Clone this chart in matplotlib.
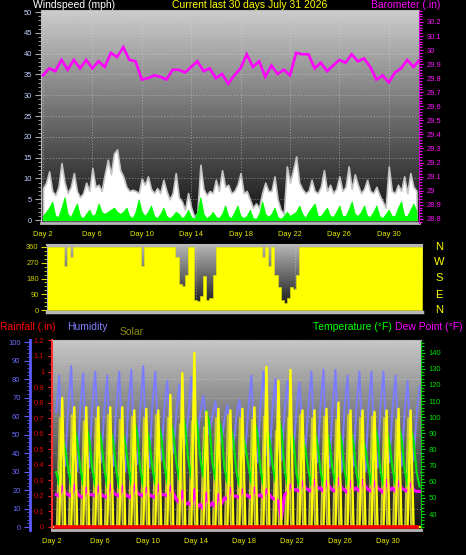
import numpy as np
import matplotlib
matplotlib.use('Agg')
import matplotlib.pyplot as plt
from matplotlib.ticker import MultipleLocator, FixedLocator, FuncFormatter

plt.rcParams['font.family'] = ['Liberation Sans', 'DejaVu Sans']

# ---------------- data ----------------
day_ticks = [2, 6, 10, 14, 18, 22, 26, 30]
day_labels = ['Day 2', 'Day 6', 'Day 10', 'Day 14', 'Day 18', 'Day 22', 'Day 26', 'Day 30']

# barometer (in), every half day from day 2.0
baro = [29.82, 29.87, 29.85, 29.93, 29.86, 29.93, 29.87, 29.93, 29.87, 29.92,
        29.88, 29.98, 29.95, 30.02, 29.93, 29.92, 29.79, 29.80, 29.82, 29.81,
        29.79, 29.86, 29.86, 29.84, 29.88, 29.92, 29.85, 29.87, 29.80, 29.83,
        29.76, 29.82, 29.87, 29.97, 29.88, 29.92, 29.81, 29.89, 29.83, 29.86,
        29.82, 29.98, 29.97, 29.97, 29.87, 29.91, 29.85, 29.89, 29.93, 29.91,
        29.97, 29.92, 29.94, 29.88, 29.79, 29.82, 29.77, 29.84, 29.87, 29.93,
        29.88, 29.93]

# wind speed (mph), every quarter day from day 2.0
wind_speed = [7.7, 9.0, 11.7, 7.0, 6.0, 8.0, 13.7, 9.0,
              6.5, 8.0, 11.3, 7.0, 5.5, 6.5, 9.0, 7.0,
              12.5, 8.0, 8.5, 7.0, 11.0, 14.5, 11.0, 16.0,
              17.0, 12.0, 10.5, 8.0, 7.0, 7.3, 7.0, 6.5,
              10.0, 8.5, 10.5, 7.5, 6.5, 7.7, 6.5, 9.7,
              7.0, 5.0, 6.5, 11.3, 5.5, 4.5, 2.5, 6.5,
              3.0, 0.8, 1.7, 13.3, 7.5, 6.0, 7.0, 6.5,
              9.7, 7.0, 12.0, 8.0, 8.5, 6.5, 7.0, 8.5,
              11.3, 6.5, 7.0, 5.0, 3.0, 4.0, 3.0, 6.5,
              9.0, 7.0, 7.0, 10.5, 5.0, 2.5, 1.5, 12.9,
              9.0, 12.0, 15.3, 9.0, 7.5, 6.5, 7.0, 9.7,
              7.0, 6.5, 8.0, 12.0, 7.0, 8.5, 6.5, 7.5,
              10.5, 7.0, 8.0, 12.9, 7.5, 11.0, 8.5, 6.5,
              7.5, 9.7, 7.0, 6.5, 8.0, 6.0, 4.5, 3.0,
              12.9, 7.0, 6.5, 8.5, 7.0, 10.5, 6.5, 11.3,
              8.0, 7.0]

# average wind (mph), every quarter day from day 2.0
wind_avg = [1.0, 2.0, 3.0, 4.5, 1.0, 0.8, 3.0, 5.5,
            1.5, 0.7, 2.5, 4.0, 1.0, 0.5, 1.5, 2.5,
            1.0, 1.5, 4.0, 2.0, 1.5, 2.0, 2.5, 3.0,
            2.0, 1.5, 2.0, 3.0, 1.0, 0.5, 2.0, 5.0,
            2.0, 1.0, 2.0, 3.5, 1.0, 0.5, 1.5, 3.0,
            1.0, 0.5, 1.0, 2.0, 1.5, 0.5, 1.0, 2.5,
            0.8, 0.3, 2.0, 5.5, 1.5, 0.5, 1.0, 2.0,
            0.8, 0.5, 1.5, 3.5, 1.0, 0.5, 2.0, 3.5,
            1.0, 0.5, 1.0, 2.5, 0.5, 0.3, 1.5, 4.5,
            1.5, 0.8, 1.5, 3.0, 0.8, 0.3, 1.0, 2.0,
            1.0, 1.5, 2.0, 3.5, 1.5, 0.5, 2.0, 3.0,
            4.0, 1.0, 1.0, 2.0, 3.0, 1.0, 0.8, 2.0,
            3.5, 1.0, 1.0, 2.5, 4.5, 1.5, 1.0, 2.0,
            3.5, 1.0, 0.8, 2.0, 3.5, 1.0, 0.5, 1.5,
            2.5, 1.0, 1.0, 3.0, 4.5, 1.0, 1.0, 2.5,
            4.0, 2.0]

# wind direction envelope (deg), every quarter day from day 2.0
wind_dir = [360, 360, 360, 360, 360, 360, 250, 360,
            300, 360, 360, 360, 360, 360, 360, 360,
            360, 360, 360, 360, 360, 360, 360, 360,
            360, 360, 360, 360, 360, 360, 360, 250,
            360, 360, 360, 360, 360, 360, 360, 360,
            360, 360, 300, 150, 140, 200, 360, 360,
            60, 50, 80, 195, 60, 70, 200, 360,
            360, 360, 360, 360, 360, 360, 360, 360,
            360, 360, 360, 360, 360, 360, 300, 360,
            250, 360, 200, 130, 60, 40, 70, 130,
            120, 200, 360, 360, 360, 360, 360, 360,
            360, 360, 360, 360, 360, 360, 360, 360,
            360, 360, 360, 360, 360, 360, 360, 360,
            360, 360, 360, 360, 360, 360, 360, 360,
            360, 360, 360, 360, 360, 360, 360, 360,
            360, 360]

# humidity (%), every quarter day from day 2.35
humidity = [62, 82, 42, 33, 65, 87, 40, 30, 64, 83, 41, 32, 66, 84, 44, 35,
            63, 82, 42, 33, 65, 84, 40, 30, 66, 85, 43, 34, 64, 87, 41, 32,
            66, 84, 45, 36, 64, 79, 50, 40, 62, 77, 54, 45, 60, 81, 57, 48,
            62, 71, 58, 50, 60, 68, 54, 45, 58, 66, 51, 42, 60, 69, 49, 40,
            64, 82, 44, 35, 66, 84, 42, 33, 64, 80, 45, 36, 62, 79, 50, 40,
            63, 78, 52, 42, 65, 84, 44, 35, 66, 85, 41, 32, 64, 85, 40, 30,
            64, 82, 42, 33, 66, 84, 40, 30, 65, 84, 41, 32, 66, 84, 44, 35,
            64, 82, 42, 33, 62, 79, 45, 36, 60, 76]

# temperature (F), every quarter day from day 2.35
temperature = [66, 58, 88, 80, 68, 57, 94, 86, 69, 58, 95, 87, 68, 57, 94, 86,
               68, 57, 93, 85, 67, 56, 92, 84, 70, 58, 98, 90, 68, 57, 94, 86,
               69, 58, 96, 88, 70, 59, 98, 90, 72, 61, 102, 94, 73, 62, 103, 95,
               74, 63, 104, 96, 72, 61, 100, 92, 69, 59, 94, 86, 66, 57, 90, 82,
               70, 59, 98, 90, 68, 58, 95, 87, 71, 60, 100, 92, 68, 58, 94, 86,
               65, 56, 88, 80, 67, 57, 92, 84, 67, 57, 92, 84, 68, 58, 93, 85,
               67, 57, 92, 84, 65, 56, 88, 80, 68, 58, 95, 87, 67, 57, 92, 84,
               68, 58, 95, 87, 68, 57, 94, 86, 66, 57]

# dew point (F), every quarter day from day 2.35
dew_point = [52, 51, 57, 53, 52, 51, 58, 53, 51, 50, 56, 52, 52, 51, 57, 52,
             51, 50, 58, 53, 52, 51, 57, 52, 51, 50, 58, 53, 52, 51, 56, 52,
             51, 50, 58, 52, 52, 51, 57, 53, 49, 47, 54, 46, 47, 45, 55, 44,
             46, 43, 53, 45, 47, 44, 52, 46, 50, 49, 56, 51, 51, 50, 55, 52,
             51, 50, 56, 51, 52, 50, 55, 52, 50, 49, 48, 37, 52, 53, 58, 55,
             55, 54, 60, 56, 55, 54, 61, 56, 56, 54, 60, 57, 55, 54, 62, 56,
             55, 53, 60, 55, 56, 54, 61, 57, 55, 54, 60, 56, 55, 53, 61, 55,
             56, 54, 60, 56, 55, 54, 59, 55, 54, 54]

# solar (plotted on rainfall scale), every quarter day from day 2.35
solar = [0, 0, 0.83, 0, 0, 0, 0.77, 0, 0, 0, 0.77, 0, 0, 0, 0.77, 0,
         0, 0, 0.77, 0, 0, 0, 0.77, 0, 0, 0, 0.75, 0, 0, 0, 0.76, 0,
         0, 0, 0.75, 0, 0, 0, 0.85, 0, 0, 0, 0.99, 0, 0, 0, 1.12, 0,
         0, 0, 0.74, 0, 0, 0, 0.76, 0, 0, 0, 0.75, 0, 0, 0, 0.76, 0,
         0, 0, 0.77, 0, 0, 0, 1.03, 0, 0, 0, 0.94, 0, 0, 0, 1.01, 0,
         0, 0, 0.75, 0, 0, 0, 0.75, 0, 0, 0, 0.76, 0, 0, 0, 0.80, 0,
         0, 0, 0.75, 0, 0, 0, 0.75, 0, 0, 0, 0.74, 0, 0, 0, 0.75, 0,
         0, 0, 0.76, 0, 0, 0, 0.75, 0, 0, 0]

# second solar trace (olive), every quarter day from day 2.15
solar2 = [0, 0, 0.70, 0, 0, 0, 0.72, 0, 0, 0, 0.68, 0, 0, 0, 0.70, 0,
          0, 0, 0.72, 0, 0, 0, 0.69, 0, 0, 0, 0.71, 0, 0, 0, 0.70, 0,
          0, 0, 0.72, 0, 0, 0, 0.70, 0, 0, 0, 0.66, 0, 0, 0, 0.68, 0,
          0, 0, 0.64, 0, 0, 0, 0.70, 0, 0, 0, 0.72, 0, 0, 0, 0.70, 0,
          0, 0, 0.69, 0, 0, 0, 0.71, 0, 0, 0, 0.62, 0, 0, 0, 0.70, 0,
          0, 0, 0.72, 0, 0, 0, 0.70, 0, 0, 0, 0.71, 0, 0, 0, 0.69, 0,
          0, 0, 0.72, 0, 0, 0, 0.70, 0, 0, 0, 0.71, 0, 0, 0, 0.70, 0,
          0, 0, 0.69, 0, 0, 0, 0.70, 0, 0, 0]

# rainfall (in), daily from day 2.35
rainfall = [0.0, 0.0, 0.0, 0.0, 0.0, 0.0, 0.0, 0.0, 0.0, 0.0, 0.0,
            0.0, 0.0, 0.0, 0.0, 0.0, 0.0, 0.0, 0.0, 0.0, 0.0, 0.0,
            0.0, 0.0, 0.0, 0.0, 0.0, 0.0, 0.0, 0.0, 0.0]

# ---------------- figure ----------------
W, H = 466, 555
fig = plt.figure(figsize=(W / 100, H / 100), dpi=100, facecolor='black')


def rect(l, t, r, b):
    return [l / W, 1 - b / H, (r - l) / W, (b - t) / H]


def px(x, y):
    return x / W, 1 - y / H


def gradient_bg(r, top, bottom):
    bg = fig.add_axes(r, zorder=0)
    bg.imshow(np.linspace(top, bottom, 256).reshape(-1, 1), aspect='auto',
              cmap='gray', vmin=0, vmax=1, extent=[0, 1, 0, 1], origin='upper')
    bg.set_axis_off()


TICK_FS = 5.4
DAY_COLOR = '#e6e600'
GRID_KW = dict(color='#d8d8d8', linestyle=(0, (1, 2)), linewidth=0.7, alpha=0.55)

# ---------- panel 1 : wind + barometer ----------
r1 = rect(41, 10, 419, 223)
gradient_bg(r1, 0.80, 0.06)
ax1 = fig.add_axes(r1, zorder=1)
ax1.set_facecolor('none')
ax1.set_xlim(1.84, 32.45)
ax1.set_ylim(-0.7, 50.5)
tw = 2.0 + 0.25 * np.arange(len(wind_speed))
ax1.fill_between(tw, 0, wind_speed, facecolor='white', edgecolor='#c4c4c4',
                 linewidth=1.2, zorder=2)
ax1.fill_between(tw, 0, wind_avg, facecolor='#00ff00', edgecolor='#00ff00',
                 linewidth=0.6, zorder=3)
ax1.set_axisbelow(True)
ax1.yaxis.set_major_locator(MultipleLocator(5))
ax1.yaxis.set_minor_locator(MultipleLocator(1))
ax1.set_xticks(day_ticks)
ax1.set_xticklabels(day_labels)
ax1.grid(True, which='major', **GRID_KW)
ax1.tick_params(axis='y', which='major', length=4, width=0.8, color='#a8a8a8',
                labelcolor='#c4d4ff', labelsize=TICK_FS, pad=2.5)
ax1.tick_params(axis='y', which='minor', length=2.5, width=0.6, color='#a8a8a8')
ax1.tick_params(axis='x', length=0, pad=5.5, labelsize=TICK_FS, labelcolor=DAY_COLOR)
for s in ['top', 'bottom', 'left']:
    ax1.spines[s].set_color('#b8b8b8')
ax1.spines['bottom'].set_linewidth(2)
ax1.spines['right'].set_visible(False)

ax1b = ax1.twinx()
ax1b.set_ylim(28.77, 30.285)
tb = 2.0 + 0.5 * np.arange(len(baro))
ax1b.plot(tb, baro, color='#ff00ff', linewidth=1.9, solid_joinstyle='miter')
ax1b.yaxis.set_major_locator(FixedLocator(np.round(np.arange(28.8, 30.25, 0.1), 1)))
ax1b.yaxis.set_major_formatter(FuncFormatter(lambda v, p: '%g' % round(v, 1)))
ax1b.yaxis.set_minor_locator(MultipleLocator(0.02))
ax1b.tick_params(axis='y', which='major', length=3, width=0.8, color='#ff00ff',
                 labelcolor='#ff10ff', labelsize=TICK_FS, pad=2.5)
ax1b.tick_params(axis='y', which='minor', length=2, width=0.8, color='#ff00ff')
ax1b.spines['right'].set_color('#c000c0')
ax1b.spines['right'].set_linestyle((0, (1, 1)))
for s in ['top', 'bottom', 'left']:
    ax1b.spines[s].set_visible(False)

# ---------- panel 2 : wind direction ----------
r2 = rect(47, 245, 422, 312)
gradient_bg(r2, 0.72, 0.04)
ax2 = fig.add_axes(r2, zorder=1)
ax2.set_facecolor('none')
ax2.set_xlim(2.0, 32.29)
ax2.set_ylim(-11.4, 371.4)
td = 2.0 + 0.25 * np.arange(len(wind_dir))
ax2.fill_between(td, 0, wind_dir, step='mid', facecolor='#ffff00',
                 edgecolor='#e8e800', linewidth=0.4, zorder=2)
ax2.set_yticks([0, 90, 180, 270, 360])
ax2.yaxis.set_minor_locator(MultipleLocator(22.5))
ax2.set_xticks(day_ticks)
ax2.set_xticklabels([])
ax2.set_axisbelow(True)
ax2.grid(True, which='major', axis='x', **GRID_KW)
ax2.tick_params(axis='x', length=0)
ax2.tick_params(axis='y', which='major', length=4, width=0.8, color='#d8d800',
                labelcolor='#d0d000', labelsize=TICK_FS, pad=2)
ax2.tick_params(axis='y', which='minor', length=2, width=0.6, color='#d8d800')
for s in ['top', 'bottom', 'left', 'right']:
    ax2.spines[s].set_color('#b8b8b8')
ax2.spines['bottom'].set_linewidth(2.5)
ax2.spines['top'].set_linewidth(1.5)
ax2.spines['right'].set_visible(False)

for lab, yy in zip(['N', 'W', 'S', 'E', 'N'], [247, 262, 278, 295, 310]):
    fig.text(*px(439, yy), lab, color='#ffff00', fontsize=8, ha='center', va='center')

# ---------- panel 3 : rain / humidity / solar / temperature ----------
r3 = rect(52, 340, 421, 530)
gradient_bg(r3, 0.78, 0.05)
ax3 = fig.add_axes(r3)
ax3.set_facecolor('none')
ax3.set_xlim(2.35, 32.72)
RAIN_LIM = (-0.0193, 1.2026)
ax3.set_ylim(*RAIN_LIM)

axh = ax3.twinx()
axs2 = ax3.twinx()
axt = ax3.twinx()
axh.set_zorder(2)
axs2.set_zorder(2.5)
axt.set_zorder(3)
ax3.set_zorder(4)

# humidity axis on the far left
axh.set_ylim(-1.62, 101.1)
axh.yaxis.set_ticks_position('left')
axh.yaxis.set_label_position('left')
axh.spines['left'].set_visible(True)
axh.spines['left'].set_position(('axes', -22.5 / 369))
axh.spines['left'].set_color('#5a5aff')
axh.spines['left'].set_linewidth(2)
for s in ['right', 'top', 'bottom']:
    axh.spines[s].set_visible(False)
axh.yaxis.set_major_locator(MultipleLocator(10))
axh.yaxis.set_minor_locator(MultipleLocator(2))
axh.tick_params(axis='y', which='major', length=4, width=0.8, color='#6060ff',
                labelcolor='#6c6cff', labelsize=TICK_FS, pad=2.5)
axh.tick_params(axis='y', which='minor', length=2.5, width=0.6, color='#6060ff')
axh.set_axisbelow(True)
axh.grid(True, which='major', axis='both', **GRID_KW)

th = 2.35 + 0.25 * np.arange(len(humidity))
axh.plot(th, humidity, color='#7c7cff', linewidth=1.4)

# olive solar trace (same scale as rainfall), below temperature lines
axs2.set_ylim(*RAIN_LIM)
axs2.set_axis_off()
ts2 = 2.15 + 0.25 * np.arange(len(solar2))
axs2.plot(ts2, solar2, color='#c8c440', linewidth=1.5)

# temperature / dew point axis on the right
axt.set_ylim(30.08, 147.9)
tt = 2.35 + 0.25 * np.arange(len(temperature))
axt.plot(tt, temperature, color='#00e800', linewidth=1.5)
tdp = 2.35 + 0.25 * np.arange(len(dew_point))
axt.plot(tdp, dew_point, color='#ff00ff', linewidth=2.2)
axt.yaxis.set_major_locator(FixedLocator(np.arange(40, 141, 10)))
axt.yaxis.set_minor_locator(MultipleLocator(2))
axt.tick_params(axis='y', which='major', length=3, width=0.8, color='#00d000',
                labelcolor='#00e000', labelsize=TICK_FS, pad=2.5)
axt.tick_params(axis='y', which='minor', length=2, width=0.8, color='#00d000')
axt.spines['right'].set_color('#00c000')
axt.spines['right'].set_linestyle((0, (1, 1)))
for s in ['left', 'top', 'bottom']:
    axt.spines[s].set_visible(False)

# bright solar and rainfall on the rainfall scale
ts = 2.35 + 0.25 * np.arange(len(solar))
ax3.plot(ts, solar, color='#ffff00', linewidth=1.7)
tr = 2.35 + 1.0 * np.arange(len(rainfall))
ax3.plot(tr, rainfall, color='#ff0000', linewidth=2.6)

ax3.yaxis.set_major_locator(FixedLocator(np.round(np.arange(0, 1.21, 0.1), 1)))
ax3.yaxis.set_major_formatter(FuncFormatter(lambda v, p: '%g' % round(v, 1)))
ax3.yaxis.set_minor_locator(MultipleLocator(0.05))
ax3.tick_params(axis='y', which='major', length=3, width=0.8, color='#ff2020',
                labelcolor='#e00000', labelsize=TICK_FS, pad=2.5)
ax3.tick_params(axis='y', which='minor', length=2, width=0.6, color='#ff2020')
ax3.set_xticks(day_ticks)
ax3.set_xticklabels(day_labels)
ax3.tick_params(axis='x', length=0, pad=5.5, labelsize=TICK_FS, labelcolor=DAY_COLOR)
ax3.spines['left'].set_color('#ff3030')
ax3.spines['left'].set_linestyle((0, (2, 1)))
ax3.spines['left'].set_linewidth(1.5)
ax3.spines['right'].set_visible(False)
ax3.spines['top'].set_color('#b8b8b8')
ax3.spines['bottom'].set_color('#b8b8b8')
ax3.spines['bottom'].set_linewidth(2)

# ---------- titles ----------
TFS = 7.5
fig.text(*px(33, 8), 'Windspeed (mph)', color='white', fontsize=TFS, va='baseline')
fig.text(*px(250, 8), 'Current last 30 days July 31 2026', color='#ffff00',
         fontsize=TFS, va='baseline', ha='center')
fig.text(*px(371, 8), 'Barometer (.in)', color='#ff00ff', fontsize=TFS, va='baseline')
fig.text(*px(0, 330), 'Rainfall (.in)', color='#ff0000', fontsize=TFS, va='baseline')
fig.text(*px(67, 330), 'Humidity', color='#8080ff', fontsize=TFS, va='baseline')
fig.text(*px(120, 335), 'Solar', color='#8c8c10', fontsize=TFS, va='baseline')
fig.text(*px(313, 330), 'Temperature (°F)', color='#00ff00', fontsize=TFS, va='baseline')
fig.text(*px(395, 330), 'Dew Point (°F)', color='#ff00ff', fontsize=TFS, va='baseline')

fig.savefig('out.png', dpi=100, facecolor='black')
